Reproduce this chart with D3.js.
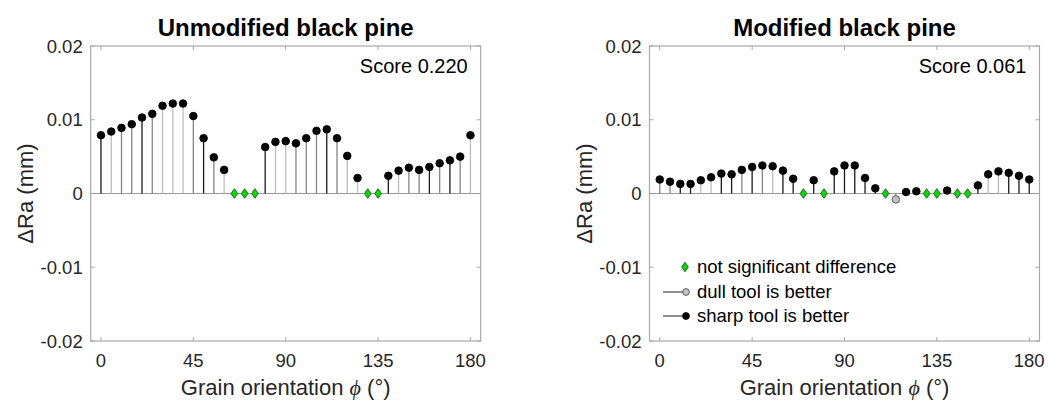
<!DOCTYPE html>
<html><head><meta charset="utf-8">
<script src="https://cdn.jsdelivr.net/npm/d3@7"></script>
<style>
body{margin:0;background:#fff;}
svg{display:block;font-family:Arial,"Liberation Sans",Helvetica,sans-serif;}
</style></head>
<body><svg id="c" width="1048" height="401"></svg>
<script>
// ---- data ----
const angles = [0,5,10,15,20,25,30,35,40,45,50,55,60,65,70,75,80,85,90,95,100,105,110,115,120,125,130,135,140,145,150,155,160,165,170,175,180];

const unmodValues = [0.0079,0.0084,0.0089,0.0094,0.0103,0.0108,0.0119,0.0122,0.0122,0.0105,0.0075,0.0049,0.0032,0,0,0,0.0063,0.0070,0.0071,0.0068,0.0075,0.0085,0.0087,0.0075,0.0051,0.0021,0,0,0.0024,0.0031,0.0035,0.0032,0.0036,0.0041,0.0045,0.0050,0.0079];
// s = sharp tool is better, d = dull tool is better, n = not significant
const unmodType = ["s","s","s","s","s","s","s","s","s","s","s","s","s","n","n","n","s","s","s","s","s","s","s","s","s","s","n","n","s","s","s","s","s","s","s","s","s"];
const unmodStemLevel = [0,2,1,1,0,1,2,2,2,1,0,1,2,null,null,null,0,2,2,1,1,1,0,1,2,2,null,null,0,2,1,1,0,1,0,1,2];

const modValues = [0.0019,0.0016,0.0013,0.0013,0.0018,0.0022,0.0027,0.0026,0.0032,0.0036,0.0038,0.0037,0.0031,0.0020,0,0.0018,0,0.0030,0.0038,0.0038,0.0021,0.0007,0,-0.0008,0.0002,0.0003,0,0,0.0004,0,0,0.0011,0.0026,0.0030,0.0028,0.0024,0.0019];
const modType = ["s","s","s","s","s","s","s","s","s","s","s","s","s","s","n","s","n","s","s","s","s","s","n","d","s","s","n","n","s","n","n","s","s","s","s","s","s"];
const modStemLevel = [1,1,0,0,2,2,0,0,1,0,1,2,0,0,null,0,null,0,0,0,0,0,null,1,0,0,null,null,0,null,null,0,2,2,0,0,0];

const panelTitles = ["Unmodified black pine","Modified black pine"];
const panelScores = ["Score 0.220","Score 0.061"];
const xTicks = [0,45,90,135,180];
const yTicks = [0.02,0.01,0,-0.01,-0.02];
const yTickLabels = ["0.02","0.01","0","-0.01","-0.02"];
const legendLabels = ["not significant difference","dull tool is better","sharp tool is better"];

// ---- drawing ----
const svg = d3.select("#c");
const stemColor = d3.scaleOrdinal().domain([0,1,2]).range(["#1a1a1a","#858585","#bdbdbd"]);
const axisCol = "#a8a8a8", textCol = "#262626";
const W = 390, H = 295, topY = 46;
const panels = [
  {x0:90.7, values:unmodValues, types:unmodType, levels:unmodStemLevel, legend:false},
  {x0:649.5, values:modValues, types:modType, levels:modStemLevel, legend:true}
];
const diamond = (cx,cy)=>`M${cx},${cy-4.8}L${cx+3.3},${cy}L${cx},${cy+4.8}L${cx-3.3},${cy}Z`;

panels.forEach((p,pi)=>{
  const x = d3.scaleLinear().domain([-5,185]).range([p.x0, p.x0+W]);
  const y = d3.scaleLinear().domain([-0.02,0.02]).range([topY+H, topY]);
  const g = svg.append("g");

  g.append("rect").attr("x",x.range()[0]).attr("y",topY).attr("width",W).attr("height",H)
    .attr("fill","none").attr("stroke",axisCol).attr("stroke-width",1.2);
  xTicks.forEach(t=>{
    g.append("line").attr("x1",x(t)).attr("x2",x(t)).attr("y1",topY+H).attr("y2",topY+H-4).attr("stroke",axisCol);
    g.append("line").attr("x1",x(t)).attr("x2",x(t)).attr("y1",topY).attr("y2",topY+4).attr("stroke",axisCol);
    g.append("text").attr("x",x(t)).attr("y",367).attr("text-anchor","middle")
      .attr("font-size",18.5).attr("fill",textCol).text(t);
  });
  yTicks.forEach((t,i)=>{
    g.append("line").attr("x1",x.range()[0]).attr("x2",x.range()[0]+4).attr("y1",y(t)).attr("y2",y(t)).attr("stroke",axisCol);
    g.append("line").attr("x1",x.range()[1]).attr("x2",x.range()[1]-4).attr("y1",y(t)).attr("y2",y(t)).attr("stroke",axisCol);
    g.append("text").attr("x",x.range()[0]-8).attr("y",y(t)).attr("dy","0.36em").attr("text-anchor","end")
      .attr("font-size",18.5).attr("fill",textCol).text(yTickLabels[i]);
  });
  g.append("line").attr("x1",x.range()[0]).attr("x2",x.range()[1]).attr("y1",y(0)).attr("y2",y(0))
    .attr("stroke","#9a9a9a").attr("stroke-width",1.2);

  const data = angles.map((a,i)=>({a, v:p.values[i], t:p.types[i], l:p.levels[i]}));
  g.selectAll(".stem").data(data.filter(d=>d.t!=="n")).join("line")
    .attr("x1",d=>x(d.a)).attr("x2",d=>x(d.a)).attr("y1",y(0)).attr("y2",d=>y(d.v))
    .attr("stroke",d=>stemColor(d.l)).attr("stroke-width",1.3);
  g.selectAll(".dot").data(data.filter(d=>d.t!=="n")).join("circle")
    .attr("cx",d=>x(d.a)).attr("cy",d=>y(d.v)).attr("r",3.8)
    .attr("fill",d=>d.t==="s"?"#000":"#c0c0c0").attr("stroke",d=>d.t==="s"?"#000":"#555").attr("stroke-width",0.9);
  g.selectAll(".dia").data(data.filter(d=>d.t==="n")).join("path")
    .attr("d",d=>diamond(x(d.a),y(d.v))).attr("fill","#00e000").attr("stroke","#1a5a1a").attr("stroke-width",0.9);

  const cx = (x.range()[0]+x.range()[1])/2;
  g.append("text").attr("x",cx).attr("y",36).attr("text-anchor","middle").attr("font-size",24)
    .attr("font-weight","bold").attr("fill","#000").text(panelTitles[pi]);
  g.append("text").attr("x",x.range()[1]-13).attr("y",73).attr("text-anchor","end").attr("font-size",20)
    .attr("fill","#000").text(panelScores[pi]);
  const xl = g.append("text").attr("x",cx).attr("y",395).attr("text-anchor","middle").attr("font-size",22).attr("fill",textCol);
  xl.append("tspan").text("Grain orientation ");
  xl.append("tspan").attr("font-style","italic").attr("font-family","Liberation Serif, serif").text("ϕ");
  xl.append("tspan").text(" (°)");
  g.append("text").attr("transform",`translate(${x.range()[0]-65},${y(0)}) rotate(-90)`)
    .attr("text-anchor","middle").attr("dy","0.35em").attr("font-size",22).attr("fill",textCol).text("ΔRa (mm)");

  if(p.legend){
    const lx = 663, rows=[267,292,316];
    const lg = g.append("g");
    lg.append("path").attr("d",diamond(lx+22,rows[0])).attr("fill","#00e000").attr("stroke","#1a5a1a").attr("stroke-width",0.9);
    [1,2].forEach(k=>{
      lg.append("line").attr("x1",lx).attr("x2",lx+20).attr("y1",rows[k]).attr("y2",rows[k]).attr("stroke","#333").attr("stroke-width",1.1);
      lg.append("circle").attr("cx",lx+23).attr("cy",rows[k]).attr("r",3.4)
        .attr("fill",k===1?"#c0c0c0":"#000").attr("stroke",k===1?"#555":"#000").attr("stroke-width",0.9);
    });
    rows.forEach((ry,k)=>{
      lg.append("text").attr("x",697).attr("y",ry).attr("dy","0.35em").attr("font-size",18.5).attr("fill","#000").text(legendLabels[k]);
    });
  }
});
</script></body></html>
